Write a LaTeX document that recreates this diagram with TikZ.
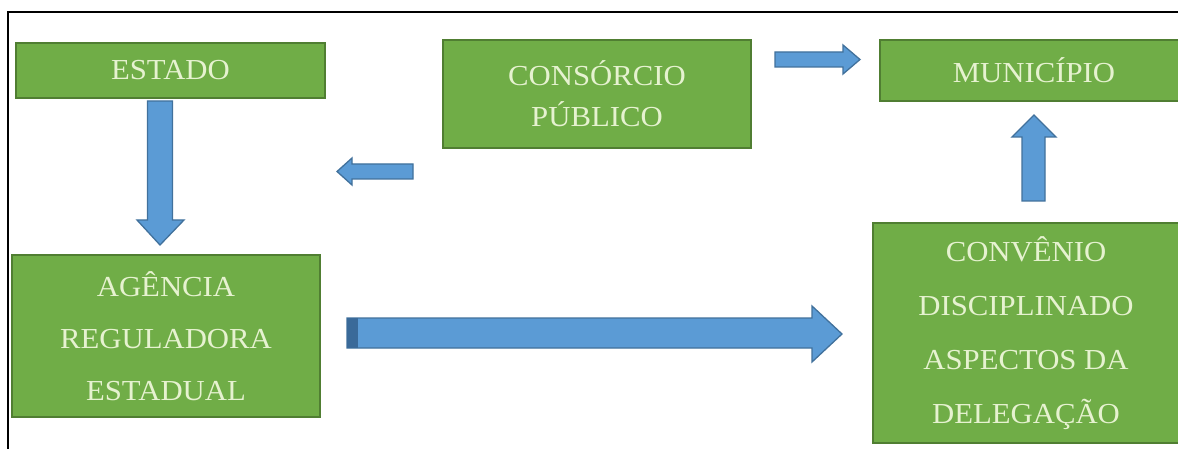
\documentclass[tikz,border=0pt]{standalone}
\usepackage{fontspec}
\setmainfont{Liberation Serif}[FakeStretch=1.06]
\definecolor{boxgreen}{HTML}{70AD47}
\definecolor{boxborder}{HTML}{507E32}
\definecolor{textcream}{HTML}{E6F2D0}
\definecolor{arrowfill}{HTML}{5B9BD5}
\definecolor{arrowborder}{HTML}{41719C}
\definecolor{arrowdark}{HTML}{3A6A99}
\tikzset{
  gbox/.style={draw=boxborder, line width=1.6pt, fill=boxgreen, text=textcream,
    inner sep=0pt, align=center},
  blockarrow/.style={draw=arrowborder, line width=1.3pt, fill=arrowfill, line join=miter},
  frameline/.style={draw=black, line width=2pt}
}
\begin{document}
\begin{tikzpicture}[x=1pt,y=-1pt]
\useasboundingbox (0,0) rectangle (1178,449);
\clip (0,0) rectangle (1178,449);
\fill[white] (0,0) rectangle (1178,449);
% frame
\coordinate (fl) at (7.5,12);
\coordinate (fr) at (1180,12);
\coordinate (fb) at (7.5,451);
\draw[frameline] (fr) -- (fl) -- (fb);
% boxes
\node[gbox, minimum width=309pt, minimum height=55pt,
  font=\fontsize{29}{35}\selectfont] (estado) at (170.5,70.5) {ESTADO};
\node[gbox, minimum width=308pt, minimum height=108pt,
  font=\fontsize{29}{41}\selectfont] (consorcio) at (597,94) {CONSÓRCIO\\PÚBLICO};
\node[gbox, minimum width=308pt, minimum height=61pt,
  font=\fontsize{29}{35}\selectfont] (municipio) at (1034,70.5) {MUNICÍPIO};
\node[gbox, minimum width=308pt, minimum height=162pt,
  font=\fontsize{29}{52}\selectfont] (agencia) at (166,336) {AGÊNCIA\\REGULADORA\\ESTADUAL};
\node[gbox, minimum width=306pt, minimum height=220pt,
  font=\fontsize{29}{54}\selectfont] (convenio) at (1026,333) {CONVÊNIO\\DISCIPLINADO\\ASPECTOS DA\\DELEGAÇÃO};
% block arrows
% estado -> agencia (down)
\draw[blockarrow] (147.5,101) -- (172.5,101) -- (172.5,220) -- (184,220) -- (160,245)
  -- (137,220) -- (147.5,220) -- cycle;
% consorcio -> (left)
\draw[blockarrow] (413,164) -- (413,179) -- (352,179) -- (352,185) -- (337,171.5)
  -- (352,158) -- (352,164) -- cycle;
% consorcio -> municipio (right)
\draw[blockarrow] (775,52) -- (843,52) -- (843,45) -- (860,59.5) -- (843,74)
  -- (843,67) -- (775,67) -- cycle;
% convenio -> municipio (up)
\draw[blockarrow] (1022,201) -- (1022,137) -- (1012,137) -- (1034,115) -- (1056,137)
  -- (1045,137) -- (1045,201) -- cycle;
% agencia -> convenio (long right)
\draw[blockarrow] (347,318) -- (812,318) -- (812,306) -- (842,334) -- (812,362)
  -- (812,348) -- (347,348) -- cycle;
\fill[arrowdark] (347,318) rectangle (358,348);
\end{tikzpicture}
\end{document}
